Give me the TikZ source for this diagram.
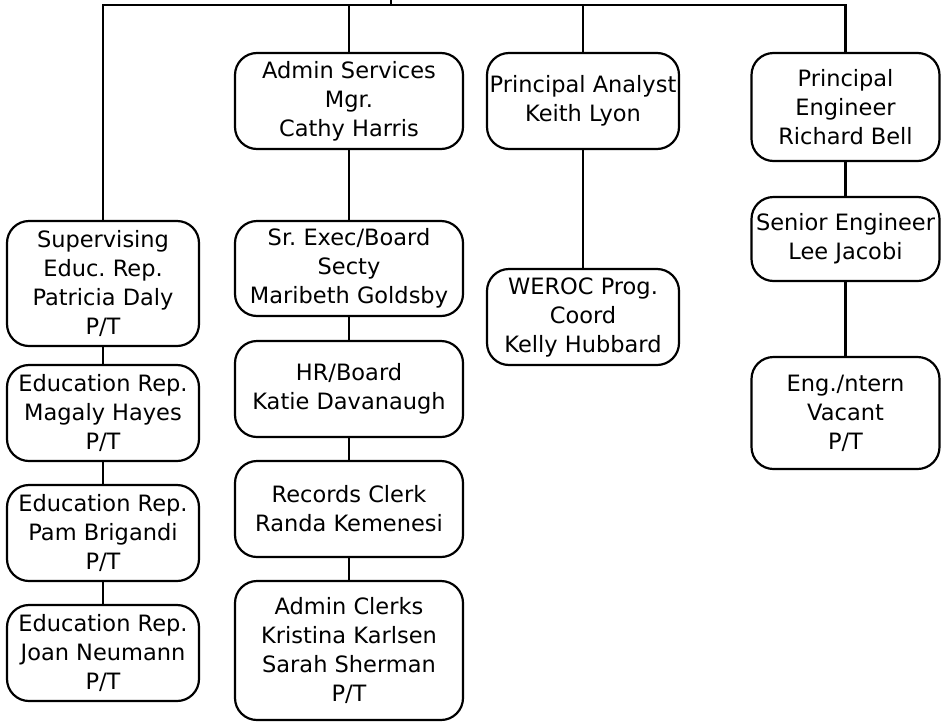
\documentclass[tikz,border=0pt]{standalone}
\usepackage{fontspec}
\setmainfont{DejaVu Sans}
\frenchspacing
\begin{document}
\begin{tikzpicture}[x=1pt,y=-1pt,
  box/.style={draw, line width=2.2pt, rounded corners=22pt, align=center,
    inner sep=0pt, font=\fontsize{22.5}{29}\selectfont},
  link/.style={line width=2.2pt}]
\useasboundingbox (0,0) rectangle (941,723);
% column 1
\node[box, minimum width=192pt, minimum height=125pt] (sup) at (103,283.5) {Supervising\\Educ. Rep.\\Patricia Daly\\P/T};
\node[box, minimum width=192pt, minimum height=96pt] (mag) at (103,413) {Education Rep.\\Magaly Hayes\\P/T};
\node[box, minimum width=192pt, minimum height=96pt] (pam) at (103,533) {Education Rep.\\Pam Brigandi\\P/T};
\node[box, minimum width=192pt, minimum height=96pt] (joan) at (103,653) {Education Rep.\\Joan Neumann\\P/T};
% column 2
\node[box, minimum width=228pt, minimum height=96pt] (admin) at (349,101) {Admin Services\\Mgr.\\Cathy Harris};
\node[box, minimum width=228pt, minimum height=95pt] (sr) at (349,268.5) {Sr. Exec/Board\\Secty\\Maribeth Goldsby};
\node[box, minimum width=228pt, minimum height=96pt] (hr) at (349,389) {HR/Board\\Katie Davanaugh};
\node[box, minimum width=228pt, minimum height=96pt] (rec) at (349,509) {Records Clerk\\Randa Kemenesi};
\node[box, minimum width=228pt, minimum height=139pt] (clerks) at (349,650.5) {Admin Clerks\\Kristina Karlsen\\Sarah Sherman\\P/T};
% column 3
\node[box, minimum width=192pt, minimum height=96pt] (analyst) at (583,101) {Principal Analyst\\Keith Lyon};
\node[box, minimum width=192pt, minimum height=96pt] (weroc) at (583,317) {WEROC Prog.\\Coord\\Kelly Hubbard};
% column 4
\node[box, minimum width=188pt, minimum height=108pt] (peng) at (845.5,107) {Principal\\Engineer\\Richard Bell};
\node[box, minimum width=188pt, minimum height=84pt] (seng) at (845.5,239) {Senior Engineer\\Lee Jacobi};
\node[box, minimum width=188pt, minimum height=112pt] (intern) at (845.5,413) {Eng./ntern\\Vacant\\P/T};
% connectors
\coordinate (bar) at (0,5);
\coordinate (stub) at (391,0);
\draw[link] (sup.north) -- (sup.north |- bar) -| (peng.north);
\draw[link] (admin.north) -- (admin.north |- bar);
\draw[link] (analyst.north) -- (analyst.north |- bar);
\draw[line width=1.5pt] (stub) -- (stub |- bar);
\draw[link] (sup) -- (mag);
\draw[link] (mag) -- (pam);
\draw[link] (pam) -- (joan);
\draw[link] (admin) -- (sr);
\draw[link] (sr) -- (hr);
\draw[link] (hr) -- (rec);
\draw[link] (rec) -- (clerks);
\draw[link] (analyst) -- (weroc);
\draw[link] (peng) -- (seng);
\draw[link] (seng) -- (intern);
\end{tikzpicture}
\end{document}
